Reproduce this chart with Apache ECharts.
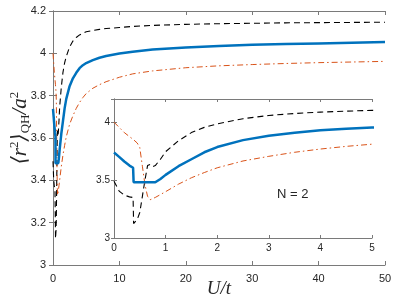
<!DOCTYPE html>
<html><head><meta charset="utf-8">
<script src="https://cdn.jsdelivr.net/npm/echarts@6/dist/echarts.min.js"></script>
<style>html,body{margin:0;padding:0;background:#fff}#c{width:398px;height:308px}</style>
</head><body><div id="c"></div>
<script>
const U =      [0,     0.1,   0.2,   0.3,   0.37,  0.38,  0.45,  0.5,   0.55,  0.6,   0.65,  0.7,   0.75,  0.8,   0.9,   1.0,   1.25,  1.5,   1.75,  2,     2.5,   3,     3.5,   4,     4.5,   5,     6,     7,     8,     10,    12,    15,    20,    25,    30,    35,    40,    45,    50];
const blue =   [3.738, 3.700, 3.660, 3.625, 3.606, 3.481, 3.481, 3.481, 3.481, 3.481, 3.481, 3.481, 3.481, 3.481, 3.510, 3.545, 3.620, 3.680, 3.740, 3.785, 3.845, 3.882, 3.908, 3.930, 3.944, 3.954, 3.968, 3.979, 3.987, 3.999, 4.008, 4.018, 4.028, 4.035, 4.040, 4.044, 4.047, 4.050, 4.053];
const black =  [3.490, 3.405, 3.370, 3.355, 3.350, 3.125, 3.160, 3.220, 3.360, 3.500, 3.625, 3.635, 3.615, 3.625, 3.680, 3.745, 3.840, 3.910, 3.955, 3.985, 4.030, 4.058, 4.075, 4.087, 4.095, 4.102, 4.108, 4.113, 4.117, 4.122, 4.127, 4.132, 4.137, 4.140, 4.142, 4.144, 4.145, 4.146, 4.147];
const orange = [4.000, 3.955, 3.910, 3.875, 3.852, 3.849, 3.820, 3.780, 3.620, 3.460, 3.360, 3.330, 3.340, 3.350, 3.375, 3.400, 3.465, 3.520, 3.565, 3.606, 3.665, 3.705, 3.740, 3.768, 3.791, 3.810, 3.835, 3.852, 3.866, 3.887, 3.903, 3.917, 3.932, 3.941, 3.947, 3.952, 3.956, 3.959, 3.962];
const insetLabel = 'N = 2';

const pair = arr => U.map((u, i) => [u, arr[i]]);
const AX = '#7a7a7a', TX = '#262626';
const FONT = 'Liberation Sans, Arial, Helvetica, sans-serif';
const SERIF = 'Liberation Serif, DejaVu Serif, serif';
function ax(extra, showLabel, fs, margin, tickLen) {
  return Object.assign({
    type: 'value',
    axisLine: { show: true, lineStyle: { color: AX, width: 1 } },
    axisTick: { show: true, inside: true, length: tickLen, lineStyle: { color: AX } },
    axisLabel: { show: showLabel, color: TX, fontSize: fs, fontFamily: FONT, margin: margin },
    splitLine: { show: false }
  }, extra);
}
const chart = echarts.init(document.getElementById('c'), null, { renderer: 'canvas' });
const lineBlue = { color: '#0072BD', width: 2.5 };
const lineBlack = { color: '#000', width: 1.1, type: [6, 4] };
const lineOrange = { color: '#D95319', width: 1, type: [6, 3, 1.5, 3] };
const insetY = ax({ gridIndex: 1, min: 3, max: 4.2, interval: 0.5, position: 'left', z: 12 }, true, 10, 4, 3);
insetY.axisLabel.showMaxLabel = false;
chart.setOption({
  backgroundColor: '#fff',
  animation: false,
  grid: [
    { left: 53, right: 13, top: 11, bottom: 43, z: 0 },
    { left: 114, right: 26, top: 99, bottom: 70, z: 10, show: true, backgroundColor: '#fff', borderWidth: 0 }
  ],
  xAxis: [
    ax({ gridIndex: 0, min: 0, max: 50, interval: 10, position: 'bottom' }, true, 11, 8, 4),
    ax({ gridIndex: 0, min: 0, max: 50, interval: 10, position: 'top' }, false, 11, 8, 4),
    ax({ gridIndex: 1, min: 0, max: 5, interval: 1, position: 'bottom', z: 12 }, true, 10, 5, 3),
    ax({ gridIndex: 1, min: 0, max: 5, interval: 1, position: 'top', z: 12 }, false, 10, 5, 3)
  ],
  yAxis: [
    ax({ gridIndex: 0, min: 3, max: 4.2, interval: 0.2, position: 'left' }, true, 11, 7, 4),
    ax({ gridIndex: 0, min: 3, max: 4.2, interval: 0.2, position: 'right' }, false, 11, 7, 4),
    insetY,
    ax({ gridIndex: 1, min: 3, max: 4.2, interval: 0.5, position: 'right', z: 12 }, false, 10, 4, 3)
  ],
  series: [
    { type: 'line', xAxisIndex: 0, yAxisIndex: 0, data: pair(black), showSymbol: false, lineStyle: lineBlack, z: 2 },
    { type: 'line', xAxisIndex: 0, yAxisIndex: 0, data: pair(blue), showSymbol: false, lineStyle: lineBlue, z: 3 },
    { type: 'line', xAxisIndex: 0, yAxisIndex: 0, data: pair(orange), showSymbol: false, lineStyle: lineOrange, z: 2 },
    { type: 'line', xAxisIndex: 2, yAxisIndex: 2, data: pair(black), showSymbol: false, lineStyle: lineBlack, z: 13 },
    { type: 'line', xAxisIndex: 2, yAxisIndex: 2, data: pair(blue), showSymbol: false, lineStyle: lineBlue, z: 14 },
    { type: 'line', xAxisIndex: 2, yAxisIndex: 2, data: pair(orange), showSymbol: false, lineStyle: lineOrange, z: 13 }
  ],
  graphic: [
    { type: 'text', left: 277, top: 188, z: 20,
      style: { text: insetLabel, fontSize: 13, fontFamily: FONT, fill: TX } },
    { type: 'text', x: 219, y: 289, z: 20,
      style: { text: 'U/t', fontSize: 19, fontStyle: 'italic', fontFamily: SERIF, fill: TX, align: 'center', verticalAlign: 'middle' } },
    { type: 'text', x: 20, y: 128, rotation: Math.PI / 2, z: 20,
      style: {
        text: '{i|⟨r}{sup|2}{i|⟩}{sub|QH}{i|/a}{sup|2}',
        align: 'center', verticalAlign: 'middle', fill: TX,
        rich: {
          i: { fontSize: 21, fontStyle: 'italic', fontFamily: SERIF, fill: TX, lineHeight: 24 },
          sup: { fontSize: 13, fontFamily: SERIF, fill: TX, padding: [0, 0, 11, 0] },
          sub: { fontSize: 13, fontFamily: SERIF, fill: TX, padding: [11, 0, 0, 0] }
        }
      } }
  ]
});
</script></body></html>
